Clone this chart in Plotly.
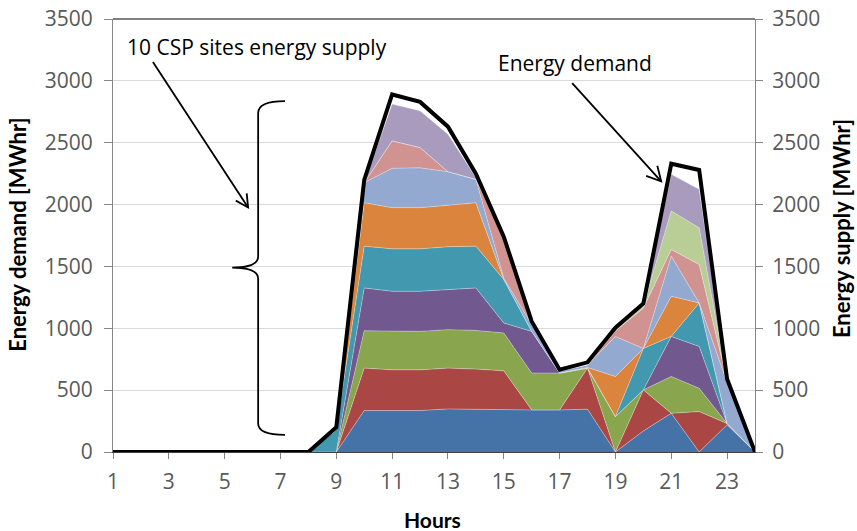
import plotly.graph_objects as go

# Hourly energy balance: demand vs. stacked supply from 10 CSP sites
hours = list(range(1, 25))

demand = [0, 0, 0, 0, 0, 0, 0, 0, 200, 2200, 2890, 2830, 2630, 2250,
          1740, 1055, 665, 725, 1005, 1200, 2330, 2280, 590, 0]

zeros8 = [0] * 8
site_1 = zeros8 + [0, 335, 335, 335, 348, 344, 340, 340, 340, 346, 0, 170, 313, 0, 220, 0]
site_2 = zeros8 + [0, 343, 329, 329, 330, 326, 316, 0, 0, 332, 0, 332, 0, 327, 10, 0]
site_3 = zeros8 + [0, 302, 311, 311, 311, 313, 306, 298, 298, 0, 286, 0, 297, 188, 0, 0]
site_4 = zeros8 + [0, 346, 324, 324, 324, 343, 81, 337, 0, 0, 0, 0, 324, 338, 0, 0]
site_5 = zeros8 + [180, 338, 343, 343, 346, 338, 351, 0, 0, 0, 0, 335, 0, 352, 0, 0]
site_6 = zeros8 + [0, 351, 333, 333, 335, 351, 0, 0, 0, 5, 324, 0, 325, 0, 0, 0]
site_7 = zeros8 + [0, 162, 318, 322, 272, 189, 10, 50, 20, 20, 324, 0, 324, 0, 330, 0]
site_8 = zeros8 + [0, 0, 222, 164, 0, 0, 340, 25, 0, 0, 45, 325, 54, 310, 15, 0]
site_9 = zeros8 + [0, 0, 0, 0, 0, 0, 0, 0, 0, 0, 15, 20, 311, 297, 5, 0]
site_10 = zeros8 + [0, 0, 297, 297, 303, 14, 0, 0, 0, 0, 0, 0, 297, 311, 5, 0]

sites = [site_1, site_2, site_3, site_4, site_5,
         site_6, site_7, site_8, site_9, site_10]
site_names = ["Site %d" % (i + 1) for i in range(10)]
site_colors = ["#4572A7", "#AA4643", "#89A54E", "#71588F", "#4198AF",
               "#DB843D", "#93A9CF", "#D19392", "#B9CD96", "#A99BBD"]

y_ticks = list(range(0, 3501, 500))
x_ticks = list(range(1, 24, 2))

TEXT_FONT = "Open Sans"
TITLE_FONT = "Lato"
TICK_COLOR = "#595959"

fig = go.Figure()

for name, vals, color in zip(site_names, sites, site_colors):
    fig.add_trace(go.Scatter(
        x=hours, y=vals, name=name, mode="lines", stackgroup="supply",
        line=dict(width=0.6, color="rgba(255,255,255,0.55)"),
        fillcolor=color, yaxis="y", hoverinfo="x+y+name",
    ))

fig.add_trace(go.Scatter(
    x=hours, y=demand, name="Energy demand", mode="lines",
    line=dict(color="black", width=4), yaxis="y2",
))

axis_font = dict(family=TEXT_FONT, size=21, color=TICK_COLOR)

fig.update_layout(
    width=857, height=531,
    margin=dict(l=113, r=102, t=19, b=79, autoexpand=False),
    paper_bgcolor="white", plot_bgcolor="white",
    showlegend=False,
    xaxis=dict(
        range=[1, 24], tickvals=x_ticks, ticktext=[str(v) for v in x_ticks],
        ticks="outside", ticklen=6, tickcolor="#868686", ticklabelstandoff=5,
        showline=True, linecolor="#404040", linewidth=1,
        showgrid=False, zeroline=False, tickfont=axis_font, automargin=False,
    ),
    yaxis=dict(
        side="right", range=[0, 3500], tickvals=y_ticks,
        ticks="outside", ticklen=7, tickcolor="#868686", ticklabelstandoff=5,
        showline=True, linecolor="#868686", linewidth=1,
        showgrid=True, gridcolor="#D9D9D9", gridwidth=1, zeroline=False,
        tickfont=axis_font, automargin=False,
    ),
    yaxis2=dict(
        overlaying="y", side="left", range=[0, 3500], tickvals=y_ticks,
        ticks="outside", ticklen=8, tickcolor="#868686", ticklabelstandoff=7,
        showline=True, linecolor="#868686", linewidth=1,
        showgrid=False, zeroline=False, tickfont=axis_font, automargin=False,
    ),
)

# axis titles
title_font = dict(family=TITLE_FONT, size=22, color="black")
fig.add_annotation(x=-0.150, y=0.501, xref="paper", yref="paper", textangle=-90,
                   text="<b>Energy demand [MWhr]</b>", showarrow=False,
                   xanchor="center", yanchor="middle", font=title_font)
fig.add_annotation(x=1.134, y=0.515, xref="paper", yref="paper", textangle=-90,
                   text="<b>Energy supply [MWhr]</b>", showarrow=False,
                   xanchor="center", yanchor="middle", font=title_font)
fig.add_annotation(x=0.498, y=-0.157, xref="paper", yref="paper",
                   text="<b>Hours</b>", showarrow=False,
                   xanchor="center", yanchor="middle",
                   font=dict(family=TITLE_FONT, size=21, color="black"))

# top border of the plot area
fig.add_shape(type="line", xref="paper", yref="paper", x0=0, x1=1, y0=1, y1=1,
              line=dict(color="black", width=1))

# curly brace grouping the supply layers
brace_path = ("M 7.16,2836 Q 6.20,2836 6.20,2740 L 6.20,1580 "
              "Q 6.20,1491 5.27,1491 Q 6.20,1491 6.20,1400 "
              "L 6.20,230 Q 6.20,138 7.16,138")
fig.add_shape(type="path", xref="x", yref="y", path=brace_path,
              line=dict(color="black", width=1.8))

# pointer arrows with open heads
arrows = [
    dict(start=(2.43, 3152), tip=(5.84, 1977), arms=[(5.79, 2090), (5.40, 2032)]),
    dict(start=(17.45, 2982), tip=(20.64, 2188), arms=[(20.50, 2314), (20.10, 2232)]),
]
for a in arrows:
    (x0, y0), (x1, y1) = a["start"], a["tip"]
    fig.add_shape(type="line", xref="x", yref="y", x0=x0, y0=y0, x1=x1, y1=y1,
                  line=dict(color="black", width=1.8))
    (ax1, ay1), (ax2, ay2) = a["arms"]
    fig.add_shape(type="path", xref="x", yref="y",
                  path=f"M {ax1},{ay1} L {x1},{y1} L {ax2},{ay2}",
                  line=dict(color="black", width=1.8))

label_font = dict(family=TEXT_FONT, size=21, color="black")
fig.add_annotation(x=1.44, y=3274, xref="x", yref="y", text="10 CSP sites energy supply",
                   showarrow=False, xanchor="left", yanchor="middle", font=label_font)
fig.add_annotation(x=17.56, y=3144, xref="x", yref="y", text="Energy demand",
                   showarrow=False, xanchor="center", yanchor="middle", font=label_font)

fig.write_html("out.html")
